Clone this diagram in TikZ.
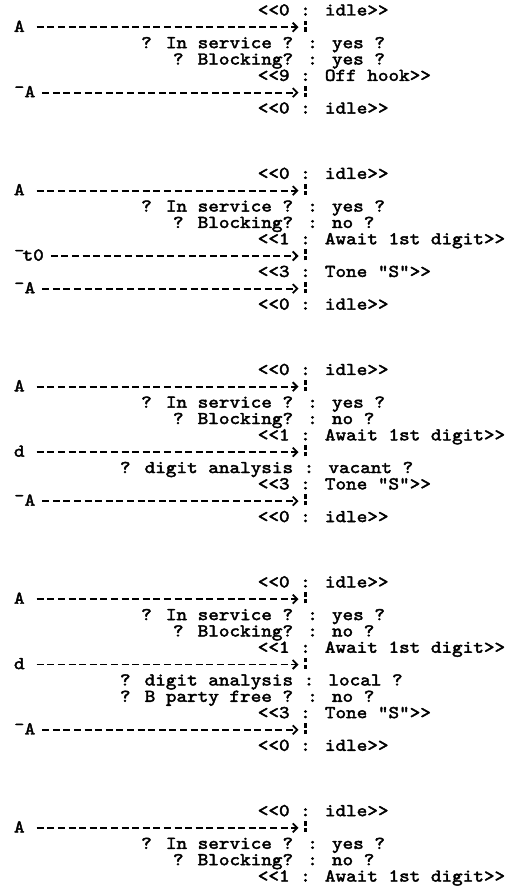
\documentclass[tikz,border=0pt]{standalone}
\usetikzlibrary{arrows.meta}
\font\twf="[lmmono10-regular.otf]:extend=1.1217;embolden=2.4" at 18pt
\newcommand\tw[1]{{\twf #1}}
\newcommand\dl{<\kern0pt<}
\newcommand\dg{>\kern0pt>}
\tikzset{
  txt/.style={anchor=base west, inner sep=0pt, outer sep=0pt},
  arr/.style={line width=1.8pt, dash pattern=on 7pt off 3.6pt,
    -{Straight Barb[length=4.5pt,width=9pt]}},
  vbar/.style={line width=2.1pt}
}
% text row: name, row, column, text
\newcommand\Tx[4]{\node[txt] (#1) at ({14+#3*10.6},{-(15.5+16.34*#2)}) {\tw{#4}};}
% arrow row: name, row, label, gap before dashes
\newcommand\Ar[4]{%
  \node[txt] (#1) at (14,{-(15.5+16.34*#2)}) {\tw{#3}};
  \coordinate (#1e) at (298.5,{-(15.5+16.34*#2)+4.6});
  \draw[arr, shorten <=#4pt] (#1e -| #1.base east) -- (#1e);
  \draw[vbar] (305.5,{-(15.5+16.34*#2)+0.3}) -- ++(0,4.2) ++(0,2.2) -- ++(0,4.6);
}
\begin{document}
\begin{tikzpicture}[x=1pt,y=1pt]
\useasboundingbox (0,0) rectangle (515,-891);
% block 1
\Tx{a0}{0}{23}{\dl0 : idle\dg}
\Ar{A1}{1}{A}{12.1}
\Tx{a2}{2}{12}{? In service ? : yes ?}
\Tx{a3}{3}{15}{? Blocking? : yes ?}
\Tx{a4}{4}{23}{\dl9 : Off hook\dg}
\Ar{B1}{5}{¯A}{7}
\Tx{a6}{6}{23}{\dl0 : idle\dg}
% block 2
\Tx{b0}{10}{23}{\dl0 : idle\dg}
\Ar{A2}{11}{A}{12.1}
\Tx{b2}{12}{12}{? In service ? : yes ?}
\Tx{b3}{13}{15}{? Blocking? : no ?}
\Tx{b4}{14}{23}{\dl1 : Await 1st digit\dg}
\Ar{T2}{15}{¯\kern-2pt t0}{7}
\Tx{b6}{16}{23}{\dl3 : Tone "S"\dg}
\Ar{B2}{17}{¯A}{7}
\Tx{b8}{18}{23}{\dl0 : idle\dg}
% block 3
\Tx{c0}{22}{23}{\dl0 : idle\dg}
\Ar{A3}{23}{A}{12.1}
\Tx{c2}{24}{12}{? In service ? : yes ?}
\Tx{c3}{25}{15}{? Blocking? : no ?}
\Tx{c4}{26}{23}{\dl1 : Await 1st digit\dg}
\Ar{D3}{27}{d}{12.1}
\Tx{c6}{28}{10}{? digit analysis : vacant ?}
\Tx{c7}{29}{23}{\dl3 : Tone "S"\dg}
\Ar{B3}{30}{¯A}{7}
\Tx{c9}{31}{23}{\dl0 : idle\dg}
% block 4
\Tx{d0}{35}{23}{\dl0 : idle\dg}
\Ar{A4}{36}{A}{12.1}
\Tx{d2}{37}{12}{? In service ? : yes ?}
\Tx{d3}{38}{15}{? Blocking? : no ?}
\Tx{d4}{39}{23}{\dl1 : Await 1st digit\dg}
\Ar{D4}{40}{d}{12.1}
\Tx{d6}{41}{10}{? digit analysis : local ?}
\Tx{d7}{42}{10}{? B party free ? : no ?}
\Tx{d8}{43}{23}{\dl3 : Tone "S"\dg}
\Ar{B4}{44}{¯A}{7}
\Tx{d10}{45}{23}{\dl0 : idle\dg}
% block 5
\Tx{e0}{49}{23}{\dl0 : idle\dg}
\Ar{A5}{50}{A}{12.1}
\Tx{e2}{51}{12}{? In service ? : yes ?}
\Tx{e3}{52}{15}{? Blocking? : no ?}
\Tx{e4}{53}{23}{\dl1 : Await 1st digit\dg}
\end{tikzpicture}
\end{document}
